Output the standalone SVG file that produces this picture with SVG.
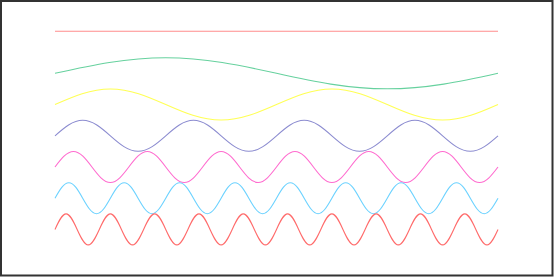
<svg xmlns="http://www.w3.org/2000/svg" width="554" height="277" viewBox="0 0 554 277">
<style>
.w{fill:none;stroke-width:1.1;stroke-linejoin:round}
</style>
<rect x="1" y="1" width="551.5" height="274.5" fill="#ffffff" stroke="#333333" stroke-width="2"/>
<g id="waves">
<path id="flat" class="w" stroke="#ff8c8c" d="M55,31.3 H498"/>
<path id="green" class="w" stroke="#66d19e" d="M55,73.3 c37.02,-8.14 70.86,-15.5 110.75,-15.5 s73.73,7.36 110.75,15.5 s70.86,15.5 110.75,15.5 s73.73,-7.36 110.75,-15.5"/>
<path id="yellow" class="w" stroke="#ffff55" d="M55,104.5 c18.51,-8.14 35.43,-15.5 55.375,-15.5 s36.86,7.36 55.375,15.5 s35.43,15.5 55.375,15.5 s36.86,-7.36 55.375,-15.5 s35.43,-15.5 55.375,-15.5 s36.86,7.36 55.375,15.5 s35.43,15.5 55.375,15.5 s36.86,-7.36 55.375,-15.5"/>
<path id="purple" class="w" stroke="#8c8cd0" d="M55,135.8 c9.256,-8.14 17.71,-15.5 27.6875,-15.5 s18.43,7.36 27.6875,15.5 s17.71,15.5 27.6875,15.5 s18.43,-7.36 27.6875,-15.5 s17.71,-15.5 27.6875,-15.5 s18.43,7.36 27.6875,15.5 s17.71,15.5 27.6875,15.5 s18.43,-7.36 27.6875,-15.5 s17.71,-15.5 27.6875,-15.5 s18.43,7.36 27.6875,15.5 s17.71,15.5 27.6875,15.5 s18.43,-7.36 27.6875,-15.5 s17.71,-15.5 27.6875,-15.5 s18.43,7.36 27.6875,15.5 s17.71,15.5 27.6875,15.5 s18.43,-7.36 27.6875,-15.5"/>
<path id="pink" class="w" stroke="#ff6ccf" d="M55,167 c6.171,-8.14 11.81,-15.5 18.458,-15.5 s12.29,7.36 18.458,15.5 s11.81,15.5 18.458,15.5 s12.29,-7.36 18.458,-15.5 s11.81,-15.5 18.458,-15.5 s12.29,7.36 18.458,15.5 s11.81,15.5 18.458,15.5 s12.29,-7.36 18.458,-15.5 s11.81,-15.5 18.458,-15.5 s12.29,7.36 18.458,15.5 s11.81,15.5 18.458,15.5 s12.29,-7.36 18.458,-15.5 s11.81,-15.5 18.458,-15.5 s12.29,7.36 18.458,15.5 s11.81,15.5 18.458,15.5 s12.29,-7.36 18.458,-15.5 s11.81,-15.5 18.458,-15.5 s12.29,7.36 18.458,15.5 s11.81,15.5 18.458,15.5 s12.29,-7.36 18.458,-15.5 s11.81,-15.5 18.458,-15.5 s12.29,7.36 18.458,15.5 s11.81,15.5 18.458,15.5 s12.29,-7.36 18.458,-15.5"/>
<path id="blue" class="w" stroke="#6cd2ff" d="M55,198.2 c4.628,-8.14 8.857,-15.5 13.844,-15.5 s9.216,7.36 13.844,15.5 s8.857,15.5 13.844,15.5 s9.216,-7.36 13.844,-15.5 s8.857,-15.5 13.844,-15.5 s9.216,7.36 13.844,15.5 s8.857,15.5 13.844,15.5 s9.216,-7.36 13.844,-15.5 s8.857,-15.5 13.844,-15.5 s9.216,7.36 13.844,15.5 s8.857,15.5 13.844,15.5 s9.216,-7.36 13.844,-15.5 s8.857,-15.5 13.844,-15.5 s9.216,7.36 13.844,15.5 s8.857,15.5 13.844,15.5 s9.216,-7.36 13.844,-15.5 s8.857,-15.5 13.844,-15.5 s9.216,7.36 13.844,15.5 s8.857,15.5 13.844,15.5 s9.216,-7.36 13.844,-15.5 s8.857,-15.5 13.844,-15.5 s9.216,7.36 13.844,15.5 s8.857,15.5 13.844,15.5 s9.216,-7.36 13.844,-15.5 s8.857,-15.5 13.844,-15.5 s9.216,7.36 13.844,15.5 s8.857,15.5 13.844,15.5 s9.216,-7.36 13.844,-15.5 s8.857,-15.5 13.844,-15.5 s9.216,7.36 13.844,15.5 s8.857,15.5 13.844,15.5 s9.216,-7.36 13.844,-15.5"/>
<path id="red" class="w" stroke="#ff6b6b" d="M55,229.4 c3.702,-8.14 7.086,-15.5 11.075,-15.5 s7.373,7.36 11.075,15.5 s7.086,15.5 11.075,15.5 s7.373,-7.36 11.075,-15.5 s7.086,-15.5 11.075,-15.5 s7.373,7.36 11.075,15.5 s7.086,15.5 11.075,15.5 s7.373,-7.36 11.075,-15.5 s7.086,-15.5 11.075,-15.5 s7.373,7.36 11.075,15.5 s7.086,15.5 11.075,15.5 s7.373,-7.36 11.075,-15.5 s7.086,-15.5 11.075,-15.5 s7.373,7.36 11.075,15.5 s7.086,15.5 11.075,15.5 s7.373,-7.36 11.075,-15.5 s7.086,-15.5 11.075,-15.5 s7.373,7.36 11.075,15.5 s7.086,15.5 11.075,15.5 s7.373,-7.36 11.075,-15.5 s7.086,-15.5 11.075,-15.5 s7.373,7.36 11.075,15.5 s7.086,15.5 11.075,15.5 s7.373,-7.36 11.075,-15.5 s7.086,-15.5 11.075,-15.5 s7.373,7.36 11.075,15.5 s7.086,15.5 11.075,15.5 s7.373,-7.36 11.075,-15.5 s7.086,-15.5 11.075,-15.5 s7.373,7.36 11.075,15.5 s7.086,15.5 11.075,15.5 s7.373,-7.36 11.075,-15.5 s7.086,-15.5 11.075,-15.5 s7.373,7.36 11.075,15.5 s7.086,15.5 11.075,15.5 s7.373,-7.36 11.075,-15.5 s7.086,-15.5 11.075,-15.5 s7.373,7.36 11.075,15.5 s7.086,15.5 11.075,15.5 s7.373,-7.36 11.075,-15.5"/>
</g>
</svg>
